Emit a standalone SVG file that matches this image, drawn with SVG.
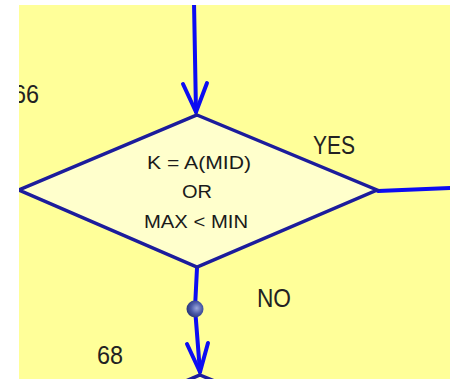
<svg xmlns="http://www.w3.org/2000/svg" width="450" height="380" viewBox="0 0 450 380">
  <defs>
    <clipPath id="area"><rect x="19" y="5" width="431" height="374"/></clipPath>
    <radialGradient id="ball" cx="0.6" cy="0.45" r="0.6">
      <stop offset="0" stop-color="#9aa6dc"/>
      <stop offset="0.55" stop-color="#4a5aa8"/>
      <stop offset="1" stop-color="#28357a"/>
    </radialGradient>
    <style>
      .conn { fill: none; stroke: #0c0cf2; stroke-width: 4; stroke-linecap: round; stroke-linejoin: round; }
      .dec { fill: #ffffcc; stroke: #1c1c9c; stroke-width: 3.5; stroke-linejoin: miter; }
      .lbl { font-family: "Liberation Sans", Arial, sans-serif; fill: #222; font-size: 26px; }
      .in { font-family: "Liberation Sans", Arial, sans-serif; fill: #1a1a1a; font-size: 19px; text-anchor: middle; }
    </style>
  </defs>
  <rect width="450" height="380" fill="#ffffff"/>
  <g clip-path="url(#area)">
    <rect x="19" y="5" width="431" height="374" fill="#ffff99"/>
    <g id="connectors">
      <path class="conn" d="M194 2 L196 112"/>
      <path class="conn" d="M183 84 L196 112 L207 83"/>
      <path class="conn" d="M378 191 L452 188"/>
      <path class="conn" d="M197 268 L195 308 L200 372"/>
      <path class="conn" d="M187 344 L200 372 L208 343"/>
      <circle cx="195" cy="309" r="8.5" fill="url(#ball)"/>
    </g>
    <g id="decision">
      <polygon class="dec" points="197,115 377,190 197,267 19,190"/>
      <text class="in" x="199" y="169" textLength="104" lengthAdjust="spacingAndGlyphs">K = A(MID)</text>
      <text class="in" x="197" y="198" textLength="30" lengthAdjust="spacingAndGlyphs">OR</text>
      <text class="in" x="196" y="228" textLength="104" lengthAdjust="spacingAndGlyphs">MAX &lt; MIN</text>
    </g>
    <g id="next-decision">
      <polygon class="dec" points="200,375 380,450 200,527 22,450"/>
    </g>
    <g id="labels">
      <text class="lbl" x="313" y="154" textLength="42" lengthAdjust="spacingAndGlyphs">YES</text>
      <text class="lbl" x="257" y="307" textLength="34" lengthAdjust="spacingAndGlyphs">NO</text>
      <text class="lbl" x="13" y="103" textLength="26" lengthAdjust="spacingAndGlyphs">66</text>
      <text class="lbl" x="97" y="364" textLength="26" lengthAdjust="spacingAndGlyphs">68</text>
    </g>
  </g>
</svg>
